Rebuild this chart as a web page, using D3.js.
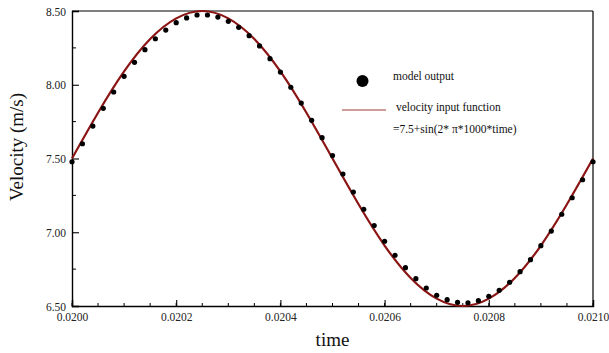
<!DOCTYPE html>
<html><head><meta charset="utf-8">
<script src="https://cdn.jsdelivr.net/npm/d3@7"></script>
<style>body{margin:0;background:#fff}svg{display:block}svg text{font-family:"Liberation Serif","Times New Roman",Times,serif !important}</style>
</head><body>
<svg id="c" width="609" height="353"></svg>
<script>
// model output, sampled every 0.00002 s from 0.0200 to 0.0210
const modelTimes = d3.range(51).map(i => +(0.02 + i * 0.00002).toFixed(5));
const modelValues = [7.478,7.600,7.720,7.840,7.951,8.057,8.152,8.238,8.312,8.371,8.421,8.453,8.473,
  8.473,8.459,8.430,8.389,8.333,8.263,8.177,8.086,7.983,7.876,7.759,7.641,7.520,7.395,7.273,7.156,
  7.045,6.939,6.844,6.760,6.685,6.622,6.573,6.543,6.525,6.522,6.536,6.566,6.606,6.661,6.733,6.814,
  6.909,7.008,7.122,7.234,7.356,7.478];
// velocity input function, read every 0.00005 s
const inputTimes = d3.range(21).map(i => +(0.02 + i * 0.00005).toFixed(5));
const inputValues = [7.50,7.81,8.09,8.31,8.45,8.50,8.45,8.31,8.09,7.81,7.50,7.19,6.91,6.69,6.55,6.50,6.55,6.69,6.91,7.19,7.50];
const xTickValues = [0.0200,0.0202,0.0204,0.0206,0.0208,0.0210];
const yTickValues = [6.50,7.00,7.50,8.00,8.50];
const legendLabels = ["model output","velocity input function","=7.5+sin(2*  \u03c0*1000*time)"];

const FONT = '"Liberation Serif","Times New Roman",Times,serif';
const svg = d3.select("#c");
const L = 72, R = 593, T = 11, B = 306;
const x = d3.scaleLinear().domain([0.02, 0.021]).range([L, R]);
const y = d3.scaleLinear().domain([6.5, 8.5]).range([B, T]);
const lineColor = "#8b1414";

// frame top/right
svg.append("line").attr("x1",L).attr("x2",R).attr("y1",T).attr("y2",T).attr("stroke","#000").attr("stroke-width",1.2);
svg.append("line").attr("x1",R).attr("x2",R).attr("y1",T).attr("y2",B).attr("stroke","#000").attr("stroke-width",1.2);

// axes
const xMinor = d3.range(21).map(i => +(0.02 + i * 0.00005).toFixed(5));
const yMinor = [6.75,7.25,7.75,8.25];
const gx = svg.append("g").attr("transform",`translate(0,${B})`);
gx.call(d3.axisBottom(x).tickValues(xTickValues).tickSize(-6).tickPadding(9).tickFormat(d3.format(".4f")));
gx.selectAll(".tick line").attr("stroke","#000").attr("stroke-width",1.1);
gx.append("g").selectAll("line").data(xMinor).join("line")
  .attr("x1",d=>x(d)).attr("x2",d=>x(d)).attr("y1",0).attr("y2",-3).attr("stroke","#000");
const gy = svg.append("g").attr("transform",`translate(${L},0)`);
gy.call(d3.axisLeft(y).tickValues(yTickValues).tickSize(-7).tickPadding(6).tickFormat(d3.format(".2f")));
gy.selectAll(".tick line").attr("stroke","#000").attr("stroke-width",1.1);
gy.append("g").selectAll("line").data(yMinor).join("line")
  .attr("x1",0).attr("x2",4).attr("y1",d=>y(d)).attr("y2",d=>y(d)).attr("stroke","#000");
[gx, gy].forEach(g=>{
  g.attr("font-family", FONT).style("font-family", FONT);
  g.select(".domain").attr("stroke","#000").attr("stroke-width",1.4);
  g.selectAll(".tick text").style("font-family",FONT).style("font-size","11.5px").attr("fill","#222");
});
gy.selectAll(".tick text").attr("dy","0.35em");
gx.selectAll(".tick text").attr("dy","0.55em");

// curve
const line = d3.line().x((d,i)=>x(inputTimes[i])).y(d=>y(d)).curve(d3.curveNatural);
svg.append("path").datum(inputValues).attr("d",line).attr("fill","none").attr("stroke",lineColor).attr("stroke-width",2.2);

// points
svg.append("g").selectAll("circle").data(modelValues).join("circle")
  .attr("cx",(d,i)=>x(modelTimes[i])).attr("cy",d=>y(d)).attr("r",2.6).attr("fill","#000");

// legend
const txt = (xx,yy,size,s) => svg.append("text").attr("x",xx).attr("y",yy)
  .style("font-family",FONT).style("font-size",size+"px").attr("fill","#111").text(s);
svg.append("circle").attr("cx",362.5).attr("cy",81).attr("r",6).attr("fill","#000");
txt(393,79.5,11.5,legendLabels[0]);
svg.append("line").attr("x1",342).attr("x2",386).attr("y1",110).attr("y2",110).attr("stroke","#a33a3a").attr("stroke-width",1.2);
txt(396,111,11.5,legendLabels[1]);
txt(393,132.5,11.5,legendLabels[2]);

// axis titles
txt((L+R)/2,346,19,"time").attr("text-anchor","middle");
svg.append("text").attr("transform","translate(23,147) rotate(-90)").attr("text-anchor","middle")
  .style("font-family",FONT).style("font-size","19px").attr("fill","#111").text("Velocity (m/s)");
</script>
</body></html>
